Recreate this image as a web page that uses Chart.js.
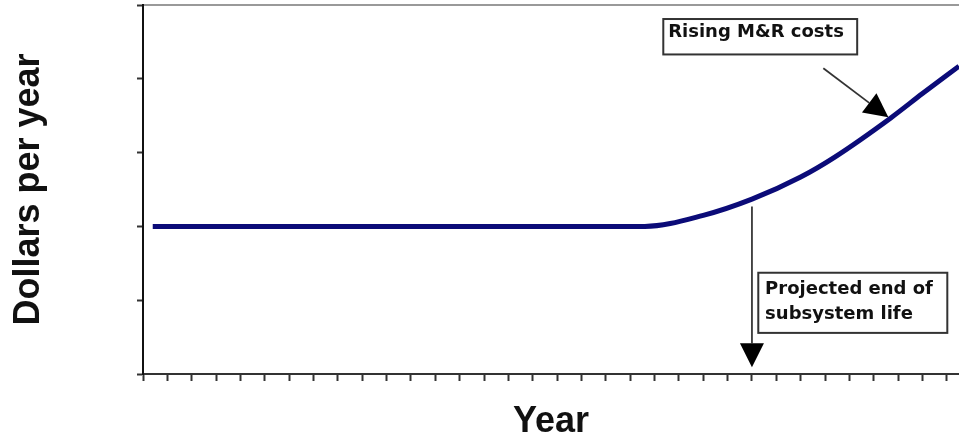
<!DOCTYPE html>
<html>
<head>
<meta charset="utf-8">
<script src="https://cdn.jsdelivr.net/npm/chart.js@4.4.0/dist/chart.umd.min.js"></script>
<style>
    html, body { margin: 0; padding: 0; background: #fff; }
    #wrap { width: 959px; height: 436px; }
</style>
</head>
<body>
<div id="wrap"><canvas id="costChart"></canvas></div>
<script>
// Valores (escala sem unidades: anos x dólares por ano)
const years = [0.4, 10, 20.6, 23, 25, 27, 28.4, 30.7, 32, 33.5];
const dollars = [2, 2, 2, 2.15, 2.37, 2.67, 2.94, 3.47, 3.8, 4.17];
const yearRange = [0, 33.5];
const dollarRange = [0, 5];

// Caixas de texto e setas (coordenadas em unidades dos eixos)
const noteLines = [['Rising M&R costs'], ['Projected end of', 'subsystem life']];
const noteBoxes = [[21.36, 4.81, 29.32, 4.33], [25.26, 1.372, 33.02, 0.557]];
const noteText = [[21.56, 4.56], [25.54, 1.08]];
const arrowFrom = [[27.93, 4.144], [25, 2.27]];
const arrowTo = [[30.6, 3.478], [25, 0.09]];

// Plugin para desenhar as anotações
const notesPlugin = {
    id: 'notes',
    afterDraw(chart) {
        const { ctx, scales: { x, y } } = chart;
        const px = v => x.getPixelForValue(v);
        const py = v => y.getPixelForValue(v);
        ctx.save();

        // setas
        arrowFrom.forEach((from, i) => {
            const x1 = px(from[0]), y1 = py(from[1]);
            const x2 = px(arrowTo[i][0]), y2 = py(arrowTo[i][1]);
            const ang = Math.atan2(y2 - y1, x2 - x1);
            const headLen = 24, headHalf = 12;
            const bx = x2 - headLen * Math.cos(ang), by = y2 - headLen * Math.sin(ang);
            ctx.strokeStyle = i === 0 ? '#333' : '#111';
            ctx.lineWidth = i === 0 ? 1.8 : 1.5;
            ctx.beginPath();
            ctx.moveTo(x1, y1);
            ctx.lineTo(bx, by);
            ctx.stroke();
            ctx.fillStyle = '#000';
            ctx.beginPath();
            ctx.moveTo(x2, y2);
            ctx.lineTo(bx + headHalf * Math.sin(ang), by - headHalf * Math.cos(ang));
            ctx.lineTo(bx - headHalf * Math.sin(ang), by + headHalf * Math.cos(ang));
            ctx.closePath();
            ctx.fill();
        });

        // caixas com texto
        noteBoxes.forEach((b, i) => {
            const left = px(b[0]), top = py(b[1]);
            const w = px(b[2]) - left, h = py(b[3]) - top;
            ctx.fillStyle = '#fff';
            ctx.fillRect(left, top, w, h);
            ctx.strokeStyle = '#333';
            ctx.lineWidth = 2;
            ctx.strokeRect(left, top, w, h);
            ctx.fillStyle = '#111';
            ctx.font = 'bold 18px "DejaVu Sans"';
            ctx.textBaseline = 'alphabetic';
            ctx.textAlign = 'left';
            noteLines[i].forEach((line, k) => {
                ctx.fillText(line, px(noteText[i][0]), py(noteText[i][1]) + k * 25);
            });
        });

        ctx.restore();
    }
};

const ctx = document.getElementById('costChart').getContext('2d');
new Chart(ctx, {
    type: 'line',
    data: {
        datasets: [{
            data: years.map((t, i) => ({ x: t, y: dollars[i] })),
            borderColor: '#0b0b78',
            borderWidth: 5,
            pointRadius: 0,
            cubicInterpolationMode: 'monotone',
            fill: false
        }]
    },
    options: {
        responsive: true,
        maintainAspectRatio: false,
        animation: false,
        layout: { padding: 0 },
        plugins: {
            legend: { display: false },
            tooltip: { enabled: false }
        },
        scales: {
            x: {
                type: 'linear',
                position: 'bottom',
                min: yearRange[0],
                max: yearRange[1],
                ticks: { display: false, stepSize: 1, includeBounds: false },
                grid: { drawOnChartArea: false, drawTicks: true, tickLength: 7, tickWidth: 2, tickColor: '#333' },
                border: { display: true, color: '#333', width: 2 },
                title: {
                    display: true,
                    text: 'Year',
                    color: '#111',
                    font: { family: '"Liberation Sans", Arial', size: 36, weight: 'bold', lineHeight: 0.8 },
                    padding: 0
                },
                afterFit: s => { s.height = 62; }
            },
            top: {
                type: 'linear',
                position: 'top',
                ticks: { display: false },
                grid: { display: false },
                border: { display: true, color: '#999', width: 2 },
                afterFit: s => { s.height = 5; }
            },
            y: {
                type: 'linear',
                min: dollarRange[0],
                max: dollarRange[1],
                ticks: { display: false, stepSize: 1 },
                grid: { drawOnChartArea: false, drawTicks: true, tickLength: 6, tickWidth: 2, tickColor: '#333' },
                border: { display: true, color: '#111', width: 2 },
                title: {
                    display: true,
                    text: 'Dollars per year',
                    color: '#111',
                    font: { family: '"Liberation Sans", Arial', size: 36, weight: 'bold', lineHeight: 0.8 },
                    padding: { top: 15, bottom: 0 }
                },
                afterFit: s => { s.width = 143; }
            }
        }
    },
    plugins: [notesPlugin]
});
</script>
</body>
</html>
